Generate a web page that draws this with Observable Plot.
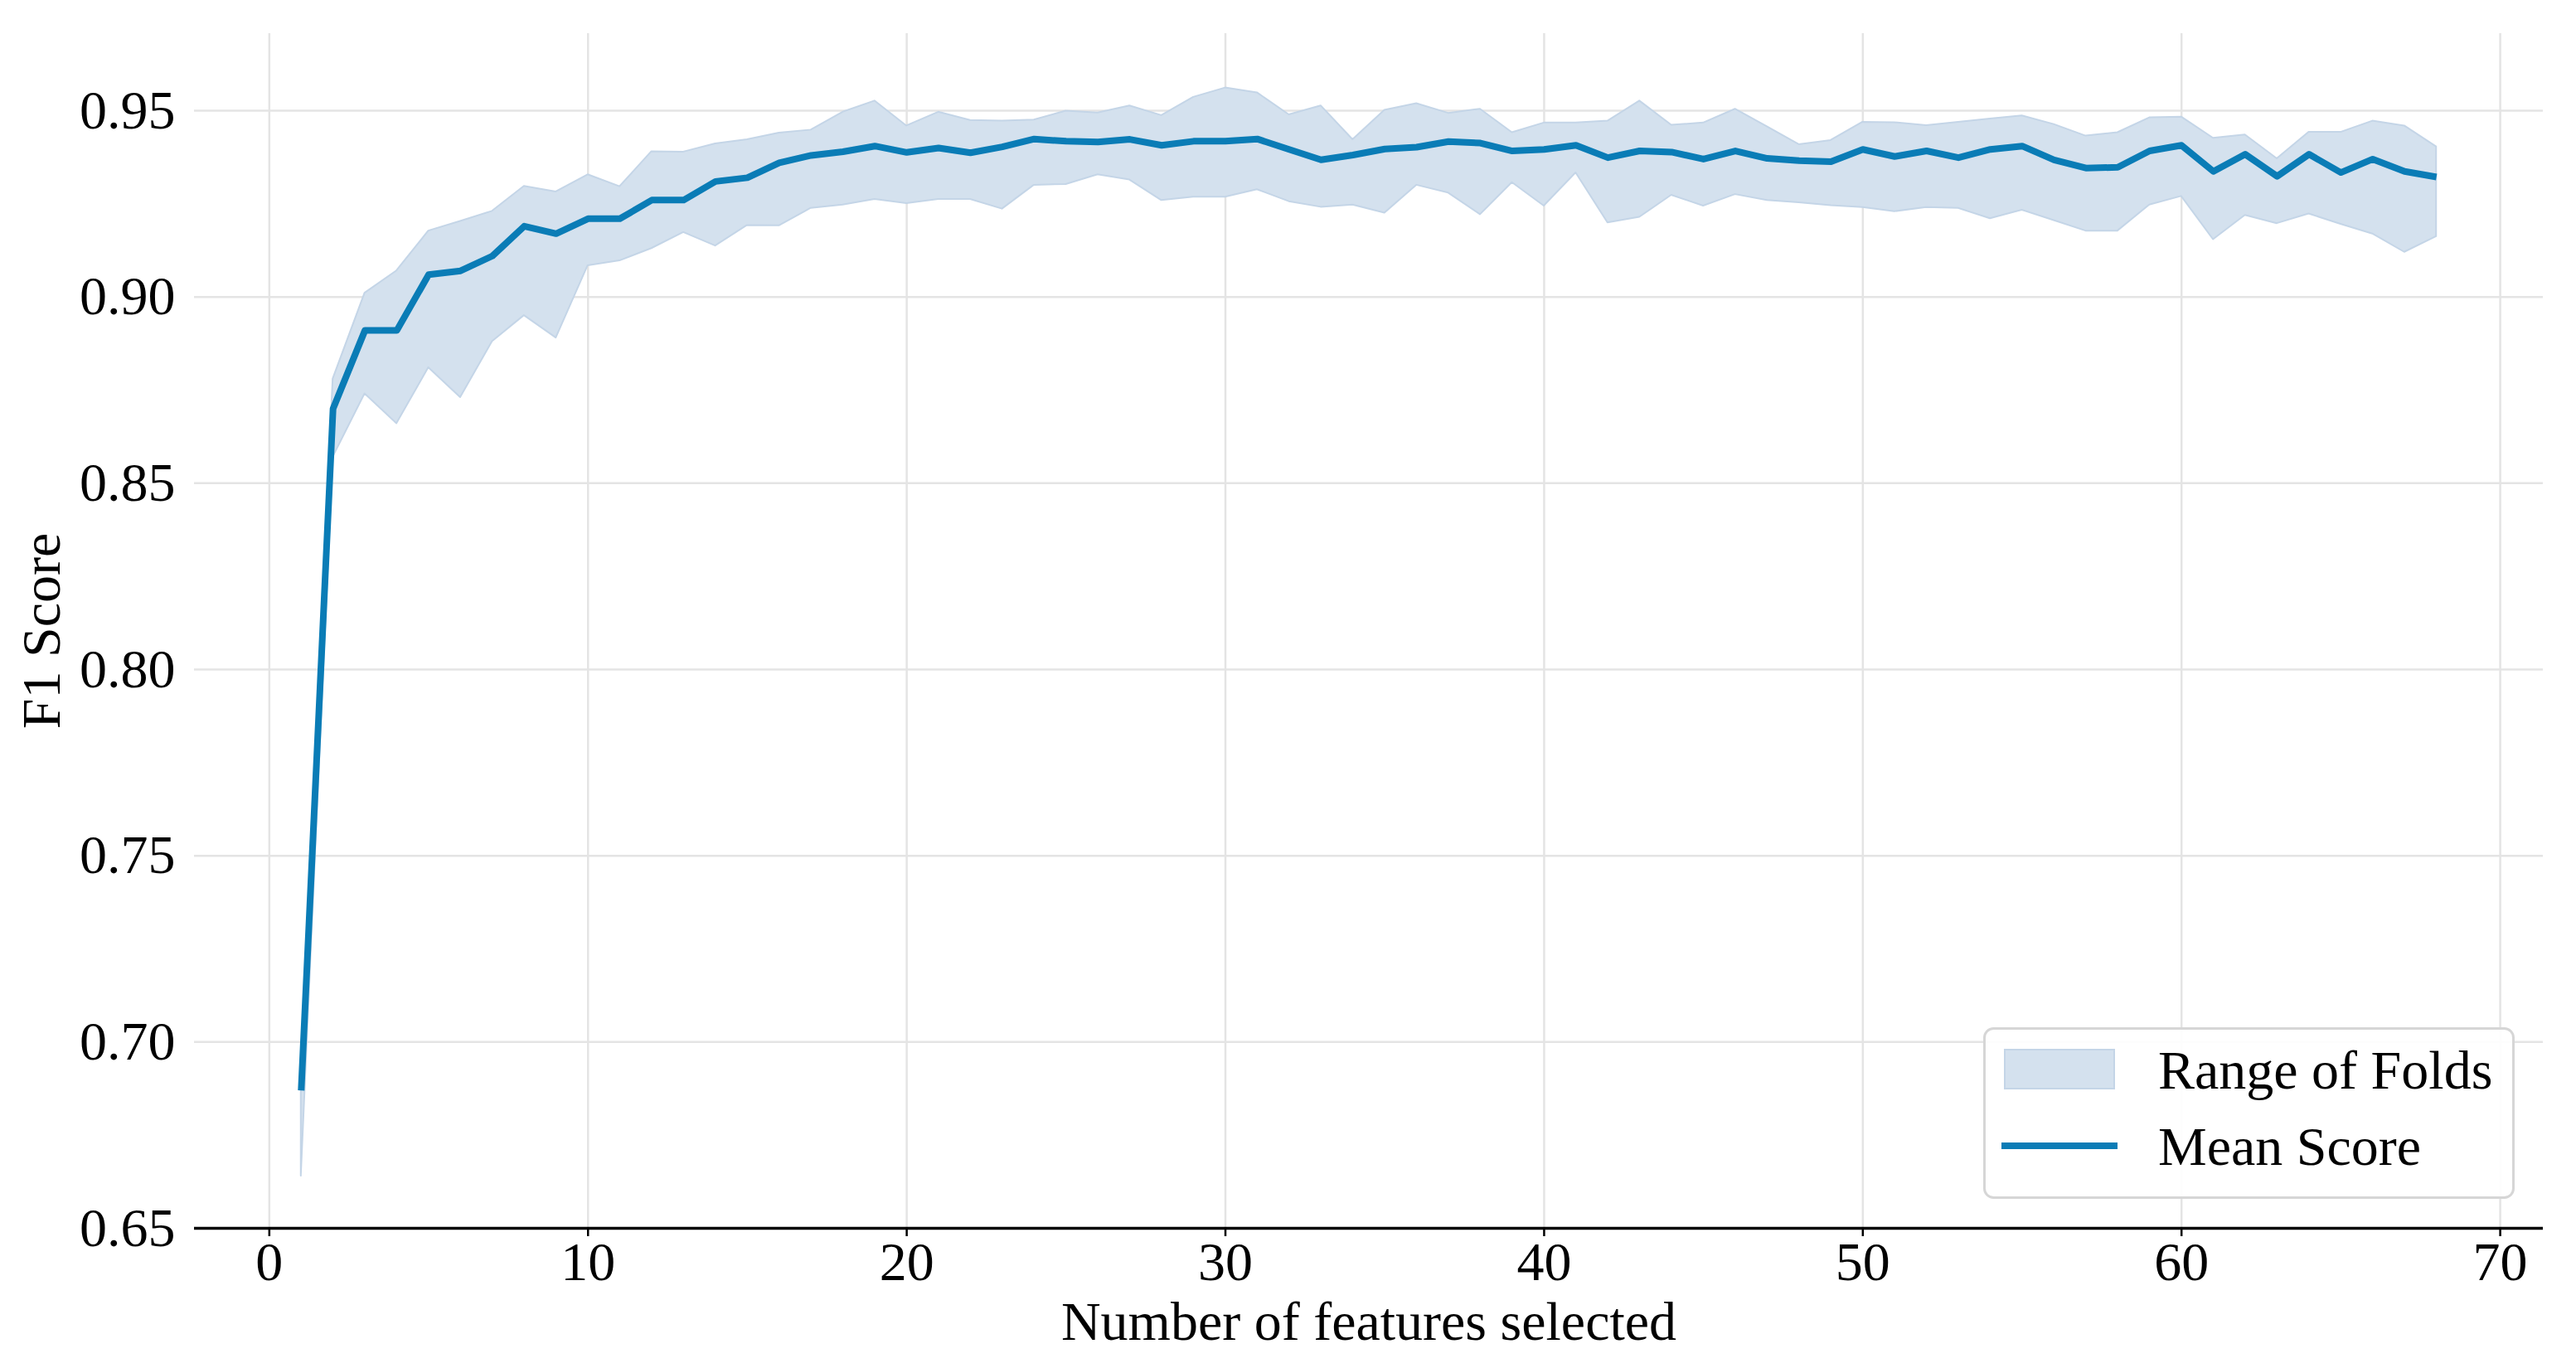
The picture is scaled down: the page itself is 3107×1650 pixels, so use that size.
<!DOCTYPE html>
<html>
<head>
<meta charset="utf-8">
<script src="https://cdn.jsdelivr.net/npm/d3@7"></script>
<script src="https://cdn.jsdelivr.net/npm/@observablehq/plot@0.6"></script>
<style>
  html, body { margin: 0; padding: 0; background: #fff; overflow: hidden; }
  #wrap { position: relative; width: 3107px; height: 1650px; }
  #legend { position: absolute; left: 2392px; top: 1239px; }
</style>
</head>
<body>
<div id="wrap"></div>
<script>
// ---- data ----
const features = d3.range(1, 69); // 1..68
const meanScore = [
  0.687, 0.870, 0.891, 0.891, 0.906, 0.907, 0.911, 0.919, 0.917, 0.921,
  0.921, 0.926, 0.926, 0.931, 0.932, 0.936, 0.938, 0.939, 0.9405, 0.9388,
  0.9400, 0.9387, 0.9403, 0.9424, 0.9418, 0.9416, 0.9423, 0.9407, 0.9418, 0.9418,
  0.9424, 0.9396, 0.9368, 0.9381, 0.9397, 0.9402, 0.9417, 0.9413, 0.9392, 0.9396,
  0.9407, 0.9374, 0.9392, 0.9389, 0.9370, 0.9392, 0.9372, 0.9366, 0.9363, 0.9396,
  0.9377, 0.9392, 0.9374, 0.9396, 0.9405, 0.9368, 0.9346, 0.9348, 0.9392, 0.9407,
  0.9337, 0.9383, 0.9324, 0.9383, 0.9334, 0.9370, 0.9337, 0.9322
];
const foldMax = [
  0.689, 0.878, 0.901, 0.907, 0.9177, 0.9203, 0.923, 0.9297, 0.9282, 0.9328,
  0.9296, 0.939, 0.9389, 0.9411, 0.9422, 0.944, 0.9448, 0.9496, 0.9526, 0.9459,
  0.9496, 0.9474, 0.9472, 0.9475, 0.9499, 0.9494, 0.9513, 0.9487, 0.9536, 0.9561,
  0.9548, 0.9489, 0.9513, 0.9422, 0.9501, 0.9519, 0.9493, 0.9504, 0.9441, 0.9467,
  0.9467, 0.9472, 0.9526, 0.9461, 0.9467, 0.9504, 0.9457, 0.9409, 0.9420, 0.9469,
  0.9468, 0.9460, 0.9469, 0.9478, 0.9486, 0.9463, 0.9432, 0.9441, 0.9481, 0.9483,
  0.9426, 0.9435, 0.9371, 0.9442, 0.9442, 0.9472, 0.9459, 0.9403
];
const foldMin = [
  0.664, 0.857, 0.874, 0.866, 0.881, 0.873, 0.888, 0.895, 0.889, 0.9084,
  0.9097, 0.913, 0.9173, 0.9137, 0.9192, 0.9191, 0.9238, 0.9247, 0.9262, 0.9251,
  0.9262, 0.9262, 0.9236, 0.9300, 0.9302, 0.9328, 0.9314, 0.9259, 0.9268, 0.9268,
  0.9288, 0.9256, 0.9241, 0.9247, 0.9225, 0.9300, 0.9279, 0.9221, 0.9307, 0.9244,
  0.9333, 0.9199, 0.9214, 0.9273, 0.9244, 0.9275, 0.9259, 0.9253, 0.9245, 0.9240,
  0.9229, 0.9240, 0.9238, 0.9210, 0.9233, 0.9205, 0.9177, 0.9177, 0.9247, 0.9270,
  0.9154, 0.9219, 0.9197, 0.9223, 0.9195, 0.9169, 0.9120, 0.9162
];
const xTicks = [0, 10, 20, 30, 40, 50, 60, 70];
const yTicks = [0.65, 0.70, 0.75, 0.80, 0.85, 0.90, 0.95];
const xLabel = "Number of features selected";
const yLabel = "F1 Score";
const legendLabels = ["Range of Folds", "Mean Score"];

// ---- styles ----
const FONT = "'Liberation Serif', 'Times New Roman', serif";
const FS = 66;
const lineColor = "#0a7cb6";
const bandFill = "#d4e1ee";
const bandEdge = "#c4d5e7";
const gridColor = "#e4e4e4";

const rows = features.map((f, i) => ({x: f, mean: meanScore[i], lo: foldMin[i], hi: foldMax[i]}));

const chart = Plot.plot({
  width: 3107,
  height: 1650,
  marginLeft: 234,
  marginRight: 40,
  marginTop: 40,
  marginBottom: 169,
  style: {fontFamily: FONT, fontSize: FS + "px", background: "#fff", color: "#000"},
  x: {domain: [-2.35, 71.35], ticks: xTicks},
  y: {domain: [0.65, 0.9707], ticks: yTicks},
  marks: [
    Plot.gridX(xTicks, {stroke: gridColor, strokeOpacity: 1, strokeWidth: 2.5}),
    Plot.gridY(yTicks, {stroke: gridColor, strokeOpacity: 1, strokeWidth: 2.5}),
    Plot.areaY(rows, {x: "x", y1: "lo", y2: "hi", fill: bandFill, fillOpacity: 1, stroke: bandEdge, strokeWidth: 2}),
    Plot.lineY(rows, {x: "x", y: "mean", stroke: lineColor, strokeWidth: 8, strokeLinejoin: "round", strokeLinecap: "butt"}),
    Plot.ruleY([0.65], {stroke: "#000", strokeWidth: 3.5}),
    Plot.axisX(xTicks, {tickSize: 10, tickPadding: 6, strokeWidth: 2.5, fontSize: FS, label: null, tickFormat: d => String(d)}),
    Plot.axisY(yTicks, {tickSize: 0, tickPadding: 23, fontSize: FS, label: null, tickFormat: d3.format(".2f")}),
    Plot.text([xLabel], {text: d => d, frameAnchor: "bottom", dy: 113, fontSize: FS, lineAnchor: "middle", textAnchor: "middle"}),
    Plot.text([yLabel], {text: d => d, frameAnchor: "left", dx: -183.5, rotate: -90, fontSize: FS, lineAnchor: "middle", textAnchor: "middle"})
  ]
});

const wrap = document.getElementById("wrap");
wrap.appendChild(chart);

// ---- legend (HTML/SVG overlay) ----
const lg = d3.create("svg")
  .attr("id", "legend")
  .attr("width", 642)
  .attr("height", 208)
  .style("font-family", FONT)
  .style("font-size", FS + "px");
lg.append("rect")
  .attr("x", 1.5).attr("y", 1.5).attr("width", 638).attr("height", 204)
  .attr("rx", 11).attr("ry", 11)
  .attr("fill", "#fff").attr("fill-opacity", 0.9)
  .attr("stroke", "#d6d6d6").attr("stroke-width", 3);
lg.append("rect")
  .attr("x", 26).attr("y", 27).attr("width", 132).attr("height", 47)
  .attr("fill", bandFill).attr("stroke", bandEdge).attr("stroke-width", 2);
lg.append("text").attr("x", 211).attr("y", 74).text(legendLabels[0]);
lg.append("line")
  .attr("x1", 22).attr("x2", 162).attr("y1", 143).attr("y2", 143)
  .attr("stroke", lineColor).attr("stroke-width", 8);
lg.append("text").attr("x", 211).attr("y", 166).text(legendLabels[1]);
wrap.appendChild(lg.node());
</script>
</body>
</html>
